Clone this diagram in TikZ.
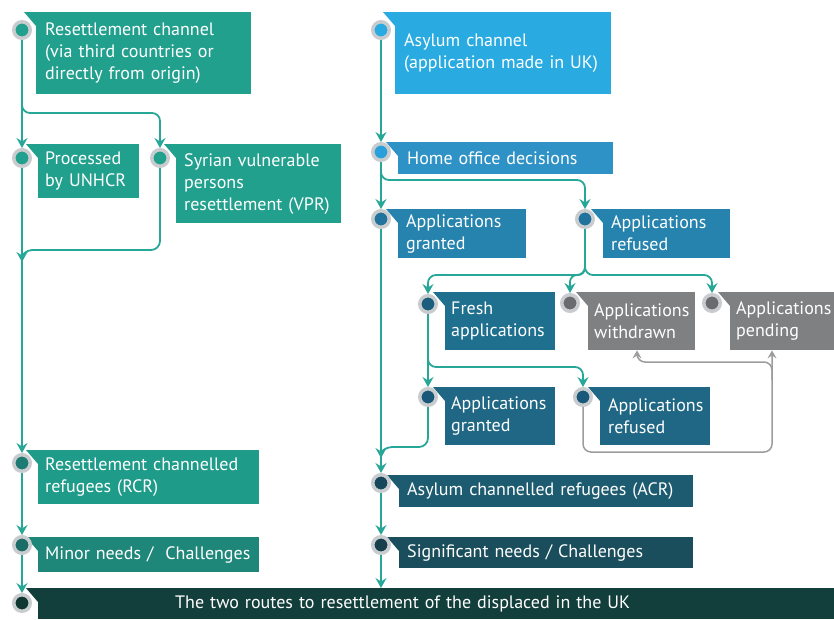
\documentclass[tikz,border=0pt]{standalone}
\usepackage{fontspec}
\setmainfont{PT Sans}
\usetikzlibrary{arrows.meta}

% palette
\definecolor{ringgray}{HTML}{C9CCCE}
\definecolor{flowcol}{HTML}{26A797}
\definecolor{backcol}{HTML}{9C9C9C}
\definecolor{tealA}{HTML}{22A08E}
\definecolor{tealB}{HTML}{1F9B8A}
\definecolor{tealC}{HTML}{1E877A}
\definecolor{dotTealB}{HTML}{1E7B74}
\definecolor{dotTealC}{HTML}{1B6B66}
\definecolor{barcol}{HTML}{123E3B}
\definecolor{dotBar}{HTML}{0F3835}
\definecolor{blueA}{HTML}{29AAE1}
\definecolor{blueB}{HTML}{2F92C6}
\definecolor{dotBlueB}{HTML}{2AA0DA}
\definecolor{blueC}{HTML}{2683AE}
\definecolor{dotBlueC}{HTML}{21729C}
\definecolor{blueD}{HTML}{1F6F8F}
\definecolor{dotBlueD}{HTML}{1B5D7D}
\definecolor{blueE}{HTML}{1F6784}
\definecolor{dotBlueE}{HTML}{1A587A}
\definecolor{blueF}{HTML}{1D5C70}
\definecolor{dotBlueF}{HTML}{17475A}
\definecolor{blueG}{HTML}{1B4E5C}
\definecolor{dotBlueG}{HTML}{173F4C}
\definecolor{grayA}{HTML}{7F8082}
\definecolor{dotGray}{HTML}{6A6B6D}

% small pointed tab on the top-left corner of a box
\newcommand\boxtab[2]{\fill[#2] (#1.north west) -- ++(-12,0) -- ++(12,14) -- cycle;}

\begin{document}
\begin{tikzpicture}[x=1pt,y=-1pt,
  dot/.style={circle, fill=#1, draw=ringgray, line width=3.5pt, minimum size=16.5pt, inner sep=0pt},
  box/.style n args={4}{fill=#1, text=white, anchor=north west, inner xsep=9pt, inner ysep=0pt,
    text width=#2pt, minimum height=#3pt, align=left, font=\fontsize{18}{22}\selectfont, #4},
  flow/.style={draw=flowcol, line width=1.8pt, -{Stealth[length=10pt,width=11pt,inset=3.5pt]}},
  back/.style={draw=backcol, line width=1.5pt, -{Stealth[length=8pt,width=9pt,inset=3pt]}}]

\useasboundingbox (0,0) rectangle (834,619);
\clip (0,0) rectangle (834,619);

% ---------- resettlement channel ----------
\node[box={tealA}{197}{82}{}] (b_rc) at (36,12) {Resettlement channel\\(via third countries or\\directly from origin)};
\boxtab{b_rc}{tealA}
\node[box={tealA}{87}{54}{inner xsep=7pt}] (b_unhcr) at (38,144) {Processed\\by UNHCR};
\boxtab{b_unhcr}{tealA}
\node[box={tealA}{149}{79}{inner xsep=8pt}] (b_vpr) at (176,144) {Syrian vulnerable\\persons\\resettlement (VPR)};
\boxtab{b_vpr}{tealA}
\node[box={tealB}{207}{54}{inner xsep=7pt}] (b_rcr) at (38,450) {Resettlement channelled\\refugees (RCR)};
\boxtab{b_rcr}{tealB}
\node[box={tealC}{207}{35}{inner xsep=7pt}] (b_minor) at (38,537) {\mbox{Minor needs / \ Challenges}};
\boxtab{b_minor}{tealC}

% ---------- asylum channel ----------
\node[box={blueA}{198}{82}{}] (b_asy) at (395,12) {Asylum channel\\(application made in UK)};
\boxtab{b_asy}{blueA}
\node[box={blueB}{197}{32}{}] (b_home) at (398,142) {Home office decisions};
\boxtab{b_home}{blueB}
\node[box={blueC}{112}{49}{inner xsep=8pt}] (b_gr1) at (398,209) {Applications\\granted};
\boxtab{b_gr1}{blueC}
\node[box={blueC}{111}{49}{inner xsep=8pt}] (b_rf1) at (603,209) {Applications\\refused};
\boxtab{b_rf1}{blueC}
\node[box={blueD}{98}{58}{inner xsep=6pt}] (b_fresh) at (445,292) {Fresh\\applications};
\boxtab{b_fresh}{blueD}
\node[box={grayA}{95}{58}{inner xsep=6pt}] (b_wd) at (588,292) {Applications\\withdrawn};
\boxtab{b_wd}{grayA}
\node[box={grayA}{92}{58}{inner xsep=6pt}] (b_pend) at (730,292) {Applications\\pending};
\boxtab{b_pend}{grayA}
\node[box={blueE}{98}{58}{inner xsep=6pt}] (b_gr2) at (445,387) {Applications\\granted};
\boxtab{b_gr2}{blueE}
\node[box={blueE}{94}{58}{inner xsep=8pt}] (b_rf2) at (600,387) {Applications\\refused};
\boxtab{b_rf2}{blueE}
\node[box={blueF}{278}{32}{inner xsep=8pt}] (b_acr) at (399,475) {Asylum channelled refugees (ACR)};
\boxtab{b_acr}{blueF}
\node[box={blueG}{278}{31}{inner xsep=8pt}] (b_sig) at (399,537) {Significant needs / Challenges};
\boxtab{b_sig}{blueG}

% ---------- common outcome bar ----------
\node[box={barcol}{778}{31}{}] (bar) at (38,588) {\hspace*{128pt}The two routes to resettlement of the displaced in the UK};
\boxtab{bar}{barcol}

% ---------- stage markers ----------
\node[dot=tealA] (c_rc) at (22,30) {};
\node[dot=tealA] (c_unhcr) at (22,158) {};
\node[dot=tealA] (c_vpr) at (160,158) {};
\node[dot=dotTealB] (c_rcr) at (22,463) {};
\node[dot=dotTealC] (c_minor) at (22,545) {};
\node[dot=dotBar] (c_bar) at (22,603) {};

\node[dot=blueA] (c_asy) at (381,30) {};
\node[dot=dotBlueB] (c_home) at (381,152) {};
\node[dot=dotBlueC] (c_gr1) at (381,219) {};
\node[dot=dotBlueC] (c_rf1) at (585,219) {};
\node[dot=dotBlueD] (c_fresh) at (428,304) {};
\node[dot=dotGray] (c_wd) at (570,303) {};
\node[dot=dotGray] (c_pend) at (712,303) {};
\node[dot=dotBlueE] (c_gr2) at (428,397) {};
\node[dot=dotBlueE] (c_rf2) at (583,397) {};
\node[dot=dotBlueF] (c_acr) at (381,483) {};
\node[dot=dotBlueG] (c_sig) at (381,545) {};

% ---------- resettlement flows ----------
\draw[flow] (c_rc.south) -- (c_unhcr.north);
\draw[flow, rounded corners=8pt] (c_rc.south) |- (c_vpr |- 0,113) -- (c_vpr.north);
\draw[flow] (c_unhcr.south) -- (c_rcr.north);
\draw[flow] (c_vpr.south) -- (160,241) to[out=-90,in=0] (151,250) -- (32,250) to[out=180,in=90] (c_unhcr |- 0,262);
\draw[flow] (c_rcr.south) -- (c_minor.north);
\draw[flow] (c_minor.south) -- (c_bar.north);

% ---------- asylum flows ----------
\draw[flow] (c_asy.south) -- (c_home.north);
\draw[flow] (c_home.south) -- (c_gr1.north);
\draw[flow, rounded corners=8pt] (c_home.south) |- (c_rf1 |- 0,180) -- (c_rf1.north);
\draw[flow] (c_gr1.south) -- (c_acr.north);
\draw[flow, rounded corners=8pt] (c_rf1.south) |- (c_fresh |- 0,275) -- (c_fresh.north);
\draw[flow, rounded corners=7pt] (c_rf1.south) |- (c_wd |- 0,275) -- (c_wd.north);
\draw[flow, rounded corners=8pt] (c_rf1.south) |- (c_pend |- 0,275) -- (c_pend.north);
\draw[flow] (c_fresh.south) -- (c_gr2.north);
\draw[flow, rounded corners=8pt] (c_fresh.south) |- (c_rf2 |- 0,367) -- (c_rf2.north);
\draw[flow] (c_gr2.south) -- (428,438) to[out=-90,in=0] (419,447) -- (392,447) to[out=180,in=90] (c_gr1 |- 0,458);
\draw[flow] (c_acr.south) -- (c_sig.north);
\draw[flow] (c_sig.south) -- (c_sig |- bar.north);

% ---------- refused applications return ----------
\draw[back, rounded corners=8pt] (c_rf2.south) |- (772,452) -- (b_pend.south -| 772,0);
\draw[back, rounded corners=8pt] (772,380) |- (637,362) -- (b_wd.south -| 637,0);

\end{tikzpicture}
\end{document}
